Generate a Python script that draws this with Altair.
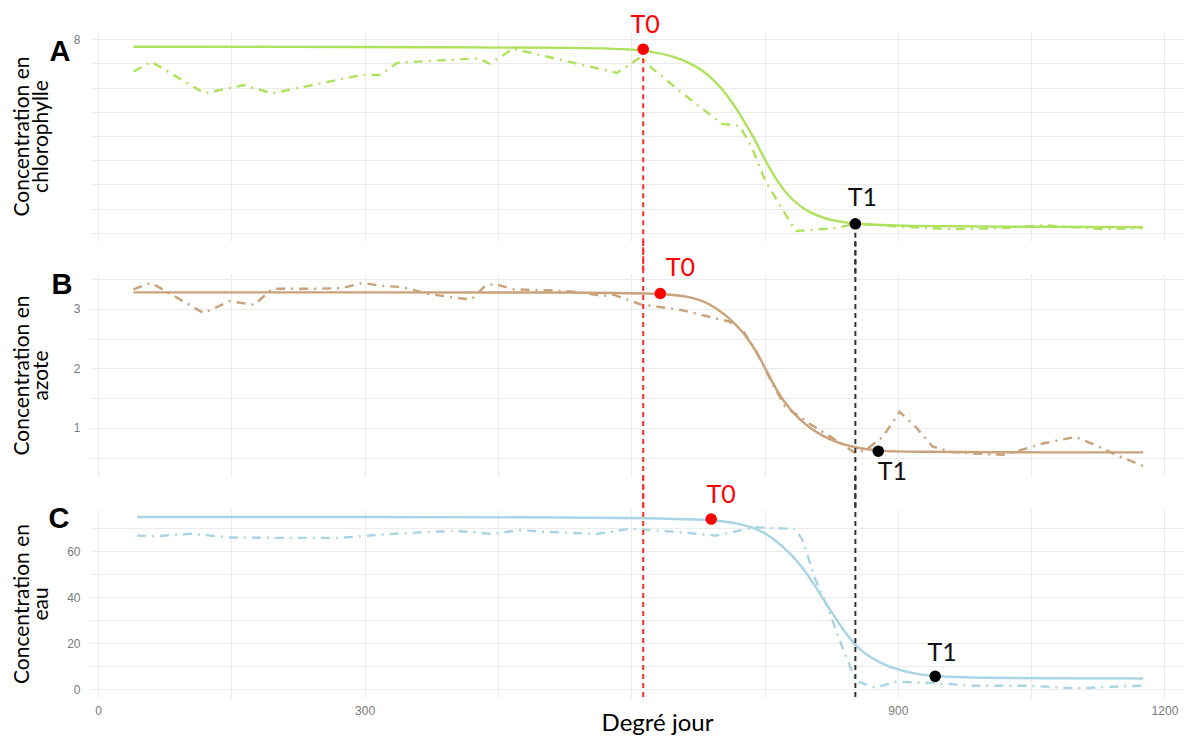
import altair as alt
import pandas as pd

# ---------------- data ----------------
# Panel A : chlorophylle
a_fit_x = [40, 200, 400, 545, 614, 657, 688, 711, 725, 740, 751, 762, 778, 800, 826, 852, 905, 1018, 1176]
a_fit_y = [7.84, 7.84, 7.83, 7.82, 7.79, 7.61, 7.28, 6.78, 6.37, 5.90, 5.49, 5.13, 4.72, 4.41, 4.25, 4.19, 4.14, 4.13, 4.12]
a_obs_x = [40, 60, 120, 164, 196, 297, 317, 337, 427, 441, 467, 584, 611, 620, 657, 702, 722, 736, 751, 785, 830, 852, 905, 961, 1018, 1063, 1130, 1175]
a_obs_y = [7.33, 7.53, 6.88, 7.05, 6.88, 7.26, 7.26, 7.51, 7.60, 7.49, 7.80, 7.30, 7.63, 7.45, 6.89, 6.25, 6.21, 5.75, 5.07, 4.04, 4.10, 4.19, 4.13, 4.08, 4.10, 4.16, 4.08, 4.10]

# Panel B : azote
b_fit_x = [40, 300, 545, 633, 669, 695, 717, 733, 748, 759, 770, 789, 815, 846, 877, 920, 995, 1176]
b_fit_y = [3.28, 3.28, 3.28, 3.26, 3.21, 3.04, 2.76, 2.48, 2.09, 1.76, 1.47, 1.13, 0.85, 0.68, 0.61, 0.60, 0.59, 0.59]
b_obs_x = [40, 60, 90, 119, 148, 176, 196, 244, 275, 298, 318, 341, 373, 407, 420, 436, 446, 468, 512, 536, 568, 580, 610,
           657, 710, 725, 740, 755, 773, 800, 830, 852, 864, 883, 902, 920, 939, 958, 987, 1018, 1032, 1063, 1100, 1130, 1145, 1178]
b_obs_y = [3.33, 3.44, 3.18, 2.93, 3.13, 3.07, 3.34, 3.34, 3.35, 3.44, 3.39, 3.37, 3.25, 3.18, 3.16, 3.39, 3.42, 3.33, 3.31, 3.29, 3.22, 3.24, 3.08,
           2.98, 2.79, 2.65, 2.31, 1.86, 1.36, 1.08, 0.80, 0.58, 0.63, 0.85, 1.27, 1.02, 0.69, 0.60, 0.57, 0.55, 0.60, 0.74, 0.85, 0.66, 0.55, 0.35]

# Panel C : eau
c_fit_x = [44, 300, 545, 691, 725, 748, 770, 789, 807, 823, 838, 852, 868, 890, 920, 942, 995, 1052, 1176]
c_fit_y = [74.8, 74.8, 74.7, 73.9, 71.7, 68.8, 62.3, 55.1, 44.9, 34.8, 26.1, 18.8, 13.8, 9.4, 6.5, 5.5, 4.8, 4.65, 4.6]
c_obs_x = [44, 65, 104, 149, 203, 272, 318, 372, 403, 444, 474, 506, 561, 598, 616, 657, 695, 740, 785, 793, 807, 823, 834,
           846, 852, 875, 897, 939, 987, 1048, 1100, 1156, 1175]
c_obs_y = [66.7, 66.4, 67.5, 65.9, 65.7, 65.7, 67.1, 68.3, 68.8, 67.4, 69.1, 68.3, 67.4, 69.6, 69.3, 68.1, 66.7, 70.3, 69.6, 64.5, 47.8, 33.5, 21.7,
           10.1, 3.6, 0.5, 3.2, 2.6, 1.4, 1.4, 0.3, 1.2, 1.4]

# Key points T0 / T1 per panel
t0_x = [613.5, 632.7, 690]
t0_y = [7.79, 3.26, 73.9]
t1_x = [852.2, 878, 942]
t1_y = [4.19, 0.61, 5.5]

panel_letters = ["A", "B", "C"]
y_titles = [["Concentration en", "chlorophylle"], ["Concentration en", "azote"], ["Concentration en", "eau"]]
x_title = "Degré jour"
x_ticks = [0, 150, 300, 450, 600, 750, 900, 1050, 1200]
y_ticks = [[4, 4.5, 5, 5.5, 6, 6.5, 7, 7.5, 8],
           [0.5, 1, 1.5, 2, 2.5, 3, 3.5],
           [0, 10, 20, 30, 40, 50, 60, 70]]

# ---------------- styling ----------------
colors = ["#aee25c", "#c9a27a", "#a8d4e4"]
y_domains = [[3.835, 8.165], [0.193, 3.588], [-3.91, 78.26]]
label_exprs = ["datum.value == 8 ? '8' : ''",
               "datum.value % 1 == 0 ? format(datum.value, 'd') : ''",
               "datum.value % 20 == 0 ? format(datum.value, 'd') : ''"]
heights = [210, 202, 189]
W = 1094
SP = 33
X_DOMAIN = [-9, 1222]
GRID = "#ebebeb"
TICK_COLOR = "#7a7a7a"
TFONT = "Lato"
# label offsets (dx, dy) for T0 / T1 in each panel
t0_off = [(2, -24), (20, -26), (10, -24)]
t1_off = [(7, -26), (14, 21), (7, -23)]
letter_pos = [(-30, 21), (-28, 11), (-31, 10)]


def xenc(show):
    if show:
        axis = alt.Axis(values=x_ticks, grid=True, gridColor=GRID, gridWidth=1, ticks=False, domain=False,
                        labelExpr="(datum.value % 300 == 0 && datum.value != 600) ? format(datum.value, 'd') : ''",
                        labelFont="Liberation Sans", labelFontSize=12, labelColor=TICK_COLOR, labelPadding=7,
                        title=x_title, titleFont=TFONT, titleFontSize=24, titleFontWeight="normal",
                        titleColor="black", titleX=567, titleY=32, titleBaseline="alphabetic")
    else:
        axis = alt.Axis(values=x_ticks, grid=True, gridColor=GRID, gridWidth=1, ticks=False, domain=False,
                        labels=False, title=None)
    return alt.X("x:Q", scale=alt.Scale(domain=X_DOMAIN, nice=False, zero=False), axis=axis)


def yenc(i):
    axis = alt.Axis(values=y_ticks[i], grid=True, gridColor=GRID, gridWidth=1, ticks=False, domain=False,
                    labelExpr=label_exprs[i], labelFont="Liberation Sans", labelFontSize=12,
                    labelColor=TICK_COLOR, labelPadding=10,
                    title=y_titles[i], titleFont=TFONT, titleFontSize=21, titleFontWeight="normal",
                    titleColor="black", titleX=-79, titleBaseline="top", titleAngle=-90, titleLineHeight=19)
    return alt.Y("y:Q", scale=alt.Scale(domain=y_domains[i], nice=False, zero=False), axis=axis)


def panel(i, fit_x, fit_y, obs_x, obs_y):
    last = i == 2
    H = heights[i]
    X = xenc(last)
    Y = yenc(i)
    fit = pd.DataFrame({"x": fit_x, "y": fit_y})
    obs = pd.DataFrame({"x": obs_x, "y": obs_y})
    p0 = pd.DataFrame({"x": [t0_x[i]], "y": [t0_y[i]], "t": ["T0"]})
    p1 = pd.DataFrame({"x": [t1_x[i]], "y": [t1_y[i]], "t": ["T1"]})

    obs_line = alt.Chart(obs).mark_line(color=colors[i], strokeWidth=2.4, strokeDash=[9, 6, 2, 6],
                                        interpolate="linear").encode(x=X, y=Y)
    fit_line = alt.Chart(fit).mark_line(color=colors[i], strokeWidth=2.4,
                                        interpolate="basis").encode(x=X, y=Y)

    r0 = pd.DataFrame({"x": [t0_x[0]], "y": [t0_y[0]]})
    r1 = pd.DataFrame({"x": [t1_x[0]], "y": [t1_y[0]]})
    if i == 0:
        red = alt.Chart(r0).mark_rule(color="#ff2a2a", strokeWidth=2, strokeDash=[5, 4]).encode(
            x=X, y=Y, y2=alt.value(H + SP))
        blk = alt.Chart(r1).mark_rule(color="#333333", strokeWidth=2, strokeDash=[5, 4]).encode(
            x=X, y=Y, y2=alt.value(H + SP))
    else:
        bottom = H + 1 if last else H + SP
        red = alt.Chart(r0).mark_rule(color="#ff2a2a", strokeWidth=2, strokeDash=[5, 4]).encode(
            x=X, y=alt.value(-SP), y2=alt.value(bottom))
        blk = alt.Chart(r1).mark_rule(color="#333333", strokeWidth=2, strokeDash=[5, 4]).encode(
            x=X, y=alt.value(-SP), y2=alt.value(bottom + (1 if last else 0)))

    pt0 = alt.Chart(p0).mark_point(filled=True, size=135, color="#ff0000", opacity=1).encode(x=X, y=Y)
    pt1 = alt.Chart(p1).mark_point(filled=True, size=135, color="#000000", opacity=1).encode(x=X, y=Y)
    lb0 = alt.Chart(p0).mark_text(color="#ff0000", font=TFONT, fontSize=25, dx=t0_off[i][0], dy=t0_off[i][1],
                                  baseline="middle", align="center").encode(x=X, y=Y, text="t:N")
    lb1 = alt.Chart(p1).mark_text(color="#111111", font=TFONT, fontSize=25, dx=t1_off[i][0], dy=t1_off[i][1],
                                  baseline="middle", align="center").encode(x=X, y=Y, text="t:N")
    letter = alt.Chart(pd.DataFrame({"l": [panel_letters[i]]})).mark_text(
        font="Liberation Sans", fontWeight="bold", fontSize=29, color="black", align="center", baseline="middle"
    ).encode(x=alt.value(letter_pos[i][0]), y=alt.value(letter_pos[i][1]), text="l:N")

    return alt.layer(obs_line, fit_line, red, blk, pt0, pt1, lb0, lb1, letter).properties(width=W, height=H)


pA = panel(0, a_fit_x, a_fit_y, a_obs_x, a_obs_y)
pB = panel(1, b_fit_x, b_fit_y, b_obs_x, b_obs_y)
pC = panel(2, c_fit_x, c_fit_y, c_obs_x, c_obs_y)

chart = (
    alt.vconcat(pA, pB, pC, spacing=SP, bounds="flush")
    .properties(padding={"left": 2, "top": 5, "right": 0, "bottom": 0}, background="white")
    .configure_view(strokeWidth=0)
)

chart.save("out.html", embed_options={"renderer": "svg", "actions": False})
